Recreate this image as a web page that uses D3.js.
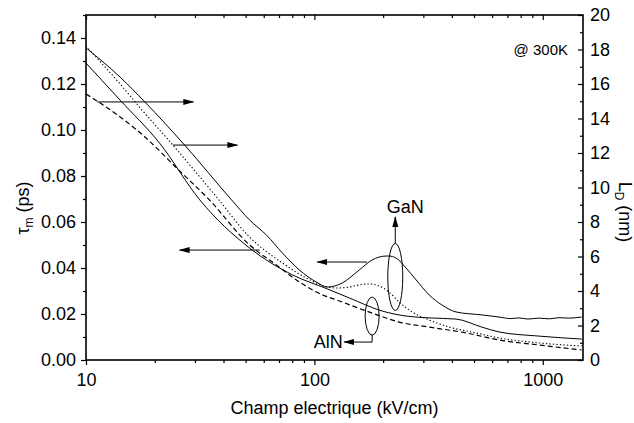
<!DOCTYPE html>
<html>
<head>
<meta charset="utf-8">
<script src="https://cdn.jsdelivr.net/npm/d3@7"></script>
<style>
  body { margin: 0; background: #fff; }
  svg { display: block; font-family: 'Liberation Sans', Arial, sans-serif; }
  text { fill: #000; }
</style>
</head>
<body>
<svg id="chart" width="634" height="423"></svg>
<script>
// field values (kV/cm) and curves
const gaNTauField = [10, 14.1, 18.1, 27, 43.4, 52, 61.7, 72.5, 86, 102, 114, 132.5, 157, 179, 206, 212, 228, 252, 279, 318, 362, 417, 541, 643, 720, 786, 860, 961, 1070, 1175, 1300, 1480];
const gaNTau = [0.1357, 0.1230, 0.1122, 0.0935, 0.0696, 0.0609, 0.0543, 0.0465, 0.0391, 0.0339, 0.0317, 0.0335, 0.0391, 0.0435, 0.0452, 0.0452, 0.0443, 0.0400, 0.0348, 0.0283, 0.0239, 0.0209, 0.0196, 0.0187, 0.0180, 0.0183, 0.0178, 0.0182, 0.0179, 0.0184, 0.0182, 0.0187];

const alNTauField = [10, 14.1, 21, 31.5, 52, 80.2, 114, 142, 198, 252, 318, 417, 541, 643, 961, 1480];
const alNTau = [0.1291, 0.1130, 0.0943, 0.0696, 0.0487, 0.0370, 0.0309, 0.0270, 0.0213, 0.0191, 0.0183, 0.0178, 0.0143, 0.0122, 0.0104, 0.0091];

const gaNLdField = [10, 14.1, 17.6, 24, 37.3, 52, 72.5, 92.3, 110.6, 124.8, 142, 157, 174, 192, 212, 235, 268, 318, 389, 510, 643, 961, 1480];
const gaNLd = [18.2, 16.0, 14.49, 12.46, 9.45, 7.13, 5.62, 4.75, 4.29, 4.17, 4.23, 4.35, 4.41, 4.29, 3.94, 3.36, 2.78, 2.32, 1.91, 1.57, 1.28, 0.99, 0.81];

const alNLdField = [10, 11.2, 18.1, 25.7, 34.7, 52, 68.2, 83.4, 102, 132.5, 179, 235, 318, 461, 643, 961, 1480];
const alNLd = [15.42, 15.01, 12.93, 10.96, 9.28, 6.67, 5.51, 4.64, 3.94, 3.36, 2.72, 2.20, 1.91, 1.57, 1.16, 0.87, 0.58];

// ticks
const xTickLabels = [10, 100, 1000];
const xMinorTicks = [20, 30, 40, 50, 60, 70, 80, 90, 200, 300, 400, 500, 600, 700, 800, 900];
const leftTicks = [0, 0.02, 0.04, 0.06, 0.08, 0.10, 0.12, 0.14];
const leftMinor = [0.01, 0.03, 0.05, 0.07, 0.09, 0.11, 0.13, 0.15];
const rightTicks = [0, 2, 4, 6, 8, 10, 12, 14, 16, 18, 20];
const rightMinor = [1, 3, 5, 7, 9, 11, 13, 15, 17, 19];

// arrows that point to the axis each curve belongs to
const arrowsRight = [
  { at: 14.96, from: 11.2, to: 29.5 },
  { at: 12.46, from: 24, to: 46 },
];
const arrowsLeft = [
  { at: 0.0478, from: 57.5, to: 25.7 },
  { at: 0.0426, from: 170, to: 103 },
];

const svg = d3.select('#chart');
const mLeft = 86, mRight = 583, mTop = 15, mBottom = 360;
const fs = 18;

const x = d3.scaleLog().domain([10, 1500]).range([mLeft, mRight]);
const yL = d3.scaleLinear().domain([0, 0.15]).range([mBottom, mTop]);
const yR = d3.scaleLinear().domain([0, 20]).range([mBottom, mTop]);

svg.append('defs').append('marker')
  .attr('id', 'head')
  .attr('markerUnits', 'userSpaceOnUse')
  .attr('markerWidth', 11).attr('markerHeight', 8)
  .attr('refX', 10).attr('refY', 3)
  .attr('orient', 'auto')
  .append('path').attr('d', 'M0,0 L11,3 L0,6 Z').attr('fill', '#000');

// axes
function styleAxis(g) {
  g.select('.domain').remove();
  g.selectAll('line').attr('stroke', '#000').attr('stroke-width', 1.2);
  g.selectAll('text').attr('font-size', fs).attr('fill', '#000');
  g.attr('font-family', null).attr('font-size', null);
}

svg.append('g').attr('transform', `translate(0,${mBottom})`)
  .call(d3.axisBottom(x).tickValues(xTickLabels).tickSize(5).tickPadding(8).tickFormat(d3.format('d')))
  .call(styleAxis);
svg.append('g').attr('transform', `translate(0,${mBottom})`)
  .call(d3.axisBottom(x).tickValues(xMinorTicks).tickSize(3).tickFormat(''))
  .call(styleAxis);
svg.append('g').attr('transform', `translate(0,${mTop})`)
  .call(d3.axisTop(x).tickValues(xTickLabels).tickSize(-5).tickFormat(''))
  .call(styleAxis);
svg.append('g').attr('transform', `translate(0,${mTop})`)
  .call(d3.axisTop(x).tickValues(xMinorTicks).tickSize(-3).tickFormat(''))
  .call(styleAxis);

svg.append('g').attr('transform', `translate(${mLeft},0)`)
  .call(d3.axisLeft(yL).tickValues(leftTicks).tickSize(5).tickPadding(5).tickFormat(d3.format('.2f')))
  .call(styleAxis);
svg.append('g').attr('transform', `translate(${mLeft},0)`)
  .call(d3.axisLeft(yL).tickValues(leftMinor).tickSize(3).tickFormat(''))
  .call(styleAxis);

svg.append('g').attr('transform', `translate(${mRight},0)`)
  .call(d3.axisRight(yR).tickValues(rightTicks).tickSize(-5).tickPadding(7).tickFormat(d3.format('d')))
  .call(styleAxis);
svg.append('g').attr('transform', `translate(${mRight},0)`)
  .call(d3.axisRight(yR).tickValues(rightMinor).tickSize(-3).tickFormat(''))
  .call(styleAxis);

svg.append('rect')
  .attr('x', mLeft).attr('y', mTop)
  .attr('width', mRight - mLeft).attr('height', mBottom - mTop)
  .attr('fill', 'none').attr('stroke', '#000').attr('stroke-width', 1.6);

// curves
const lineL = d3.line().x((d) => x(d[0])).y((d) => yL(d[1])).curve(d3.curveMonotoneX);
const lineR = d3.line().x((d) => x(d[0])).y((d) => yR(d[1])).curve(d3.curveMonotoneX);

const plot = svg.append('g');
plot.append('path').datum(d3.zip(gaNTauField, gaNTau)).attr('d', lineL)
  .attr('fill', 'none').attr('stroke', '#000').attr('stroke-width', 1);
plot.append('path').datum(d3.zip(alNTauField, alNTau)).attr('d', lineL)
  .attr('fill', 'none').attr('stroke', '#000').attr('stroke-width', 1);
plot.append('path').datum(d3.zip(gaNLdField, gaNLd)).attr('d', lineR)
  .attr('fill', 'none').attr('stroke', '#000').attr('stroke-width', 1.1)
  .attr('stroke-dasharray', '1.3,2.2');
plot.append('path').datum(d3.zip(alNLdField, alNLd)).attr('d', lineR)
  .attr('fill', 'none').attr('stroke', '#000').attr('stroke-width', 1.2)
  .attr('stroke-dasharray', '5,3');

// arrows
arrowsRight.forEach((a) => {
  svg.append('line')
    .attr('x1', x(a.from)).attr('x2', x(a.to))
    .attr('y1', yR(a.at)).attr('y2', yR(a.at))
    .attr('stroke', '#000').attr('stroke-width', 1).attr('marker-end', 'url(#head)');
});
arrowsLeft.forEach((a) => {
  svg.append('line')
    .attr('x1', x(a.from)).attr('x2', x(a.to))
    .attr('y1', yL(a.at)).attr('y2', yL(a.at))
    .attr('stroke', '#000').attr('stroke-width', 1).attr('marker-end', 'url(#head)');
});

// GaN group
const gx = x(226), gy = yL(0.0361);
svg.append('ellipse').attr('cx', gx).attr('cy', gy).attr('rx', 7.5).attr('ry', 33.5)
  .attr('fill', 'none').attr('stroke', '#000').attr('stroke-width', 1);
svg.append('line').attr('x1', gx).attr('x2', gx).attr('y1', gy - 33.5).attr('y2', yL(0.0622))
  .attr('stroke', '#000').attr('stroke-width', 1).attr('marker-end', 'url(#head)');
svg.append('text').attr('x', x(250)).attr('y', yL(0.0639))
  .attr('text-anchor', 'middle').attr('font-size', fs).text('GaN');

// AlN group
const ax = x(179), ay = yL(0.0191);
svg.append('ellipse').attr('cx', ax).attr('cy', ay).attr('rx', 7).attr('ry', 19)
  .attr('fill', 'none').attr('stroke', '#000').attr('stroke-width', 1);
svg.append('path')
  .attr('d', `M${ax},${ay + 19} V${yL(0.0078)} H${x(135)}`)
  .attr('fill', 'none').attr('stroke', '#000').attr('stroke-width', 1).attr('marker-end', 'url(#head)');
svg.append('text').attr('x', x(133)).attr('y', yL(0.0078)).attr('dy', '0.33em')
  .attr('text-anchor', 'end').attr('font-size', fs).text('AlN');

svg.append('text').attr('x', 568).attr('y', yR(18)).attr('dy', '0.35em')
  .attr('text-anchor', 'end').attr('font-size', 15).text('@ 300K');

// axis titles
svg.append('text').attr('x', (mLeft + mRight) / 2).attr('y', 414)
  .attr('text-anchor', 'middle').attr('font-size', fs).text('Champ electrique (kV/cm)');

const tl = svg.append('text').attr('transform', 'translate(29,208) rotate(-90)')
  .attr('text-anchor', 'middle').attr('font-size', fs);
tl.append('tspan').text('τ');
tl.append('tspan').attr('font-size', 12).attr('dy', 4).text('m');
tl.append('tspan').attr('dy', -4).text(' (ps)');

const tr = svg.append('text').attr('transform', 'translate(619,212) rotate(90)')
  .attr('text-anchor', 'middle').attr('font-size', fs);
tr.append('tspan').text('L');
tr.append('tspan').attr('font-size', 12).attr('dy', 4).text('D');
tr.append('tspan').attr('dy', -4).text(' (nm)');
</script>
</body>
</html>
